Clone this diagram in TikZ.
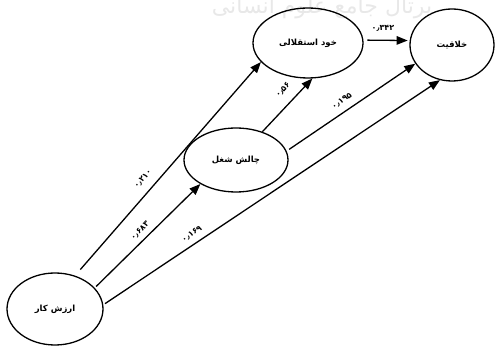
\documentclass[tikz,border=0pt]{standalone}
\usepackage{fontspec}
\newfontfamily\fa[Script=Arabic]{DejaVu Sans}
\TeXXeTstate=1
\usetikzlibrary{arrows.meta,shapes.geometric}
\begin{document}
\begin{tikzpicture}[x=1pt,y=-1pt,
  var/.style={draw, ellipse, line width=1.3pt, inner sep=0pt,
    font=\fa\bfseries\fontsize{8.5}{10}\selectfont},
  link/.style={line width=1.3pt, -{Triangle[length=11pt,width=8.5pt]}},
  coef/.style={inner sep=0pt, font=\fa\bfseries\fontsize{8}{9}\selectfont},
  mark text/.style={inner sep=0pt, text=black!9, font=\fa\fontsize{22}{24}\selectfont}]
\useasboundingbox (0,0) rectangle (496,347);

% faint site mark behind the top
\node[mark text] (wm) at (322,8) {\beginR پرتال جامع علوم انسانی\endR};

% variables
\node[var, minimum width=96, minimum height=72] (kar)  at (55,309)  {\beginR ارزش کار\endR};
\node[var, minimum width=104, minimum height=64] (chal) at (236,160) {\beginR چالش شغل\endR};
\node[var, minimum width=110, minimum height=70] (khod) at (308,43)  {\beginR خود استقلالی\endR};
\node[var, minimum width=84, minimum height=72]  (khal) at (452,45)  {\beginR خلاقیت\endR};

% paths
\draw[link, shorten <=8pt] (kar.59) -- (khod.202);
\draw[link, shorten <=2pt] (kar.28) -- (chal.214);
\draw[link, shorten <=2pt] (kar.5) -- (khal.251);
\draw[link] (chal.47) -- (khod.277);
\draw[link, shorten <=3pt] (chal.10) -- (khal.207);
\draw[link, shorten <=4pt, shorten >=2pt] (khod.3) -- (khal.174);

% path coefficients
\node[coef, rotate=49] (c1) at (143,179) {۰٫۲۱۰};
\node[coef, rotate=45] (c2) at (140,231) {۰٫۶۸۳};
\node[coef, rotate=34] (c3) at (192,234) {۰٫۱۶۹};
\node[coef, rotate=48] (c4) at (283,90)  {۰٫۵۶};
\node[coef, rotate=34] (c5) at (342,101) {۰٫۱۹۵};
\node[coef] (c6) at (383,28) {۰٫۳۴۲};
\end{tikzpicture}
\end{document}
